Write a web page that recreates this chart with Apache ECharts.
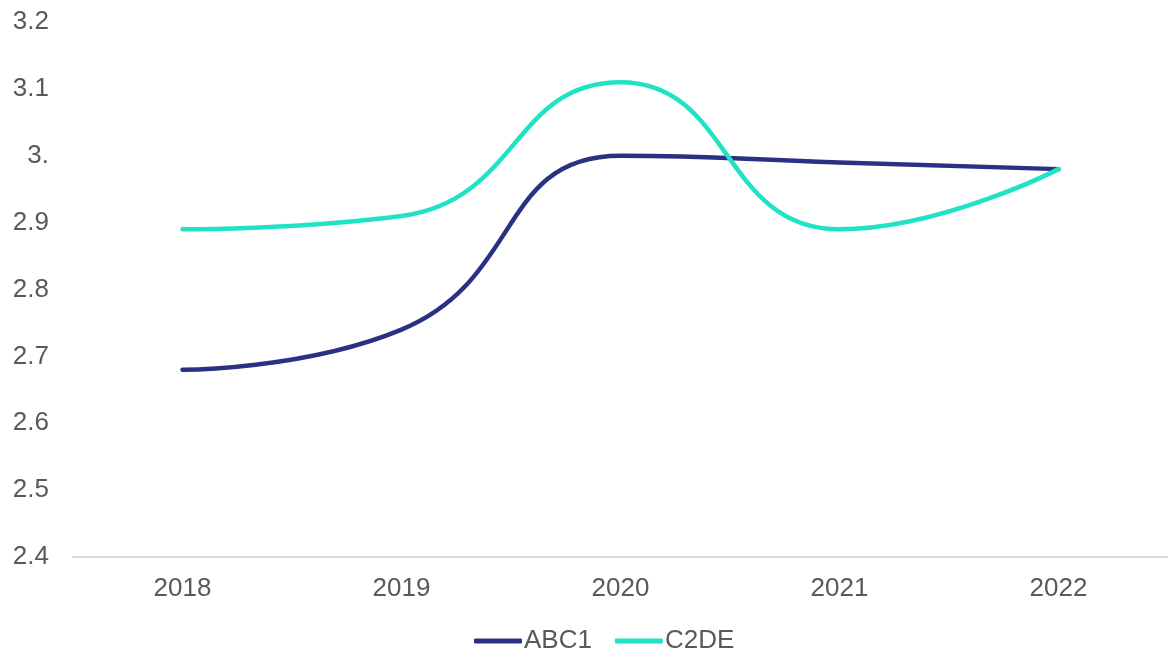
<!DOCTYPE html>
<html>
<head>
<meta charset="utf-8">
<script src="https://cdn.jsdelivr.net/npm/echarts@6/dist/echarts.min.js"></script>
<style>
  html, body { margin: 0; padding: 0; background: #fff; }
  #chart { width: 1168px; height: 652px; }
</style>
</head>
<body>
<div id="chart"></div>
<script>
var years = ['2018', '2019', '2020', '2021', '2022'];
var abc1 = [2.68, 2.74, 3.00, 2.99, 2.98];
var c2de = [2.89, 2.91, 3.11, 2.89, 2.98];

var myChart = echarts.init(document.getElementById('chart'));
var option = {
    animation: false,
    textStyle: { fontFamily: '"Liberation Sans", Arial, sans-serif' },
    grid: { left: 73, top: 22, width: 1100, height: 535 },
    legend: {
        data: ['ABC1', 'C2DE'],
        top: 623,
        left: 469,
        itemWidth: 48,
        itemHeight: 5,
        itemGap: 23,
        icon: 'roundRect',
        textStyle: { fontSize: 26, color: '#595959', padding: [0, 0, 0, -3] }
    },
    xAxis: {
        type: 'category',
        data: years,
        boundaryGap: true,
        axisLine: { lineStyle: { color: '#d9d9d9', width: 2 } },
        axisTick: { show: false },
        axisLabel: { fontSize: 26, color: '#595959', margin: 19 }
    },
    yAxis: {
        type: 'value',
        min: 2.4,
        max: 3.2,
        interval: 0.1,
        splitLine: { show: false },
        axisLabel: {
            fontSize: 26,
            color: '#595959',
            margin: 24,
            formatter: function (v) {
                var s = String(Math.round(v * 10) / 10);
                return s.indexOf('.') < 0 ? s + '.' : s;
            }
        }
    },
    series: [
        {
            name: 'ABC1',
            type: 'line',
            smooth: 0.5,
            symbol: 'none',
            lineStyle: { width: 4.5, color: '#2b3182', cap: 'round' },
            itemStyle: { color: '#2b3182' },
            data: abc1
        },
        {
            name: 'C2DE',
            type: 'line',
            smooth: 0.5,
            symbol: 'none',
            lineStyle: { width: 4.5, color: '#1fe3c4', cap: 'round' },
            itemStyle: { color: '#1fe3c4' },
            data: c2de
        }
    ]
};
myChart.setOption(option);
window.onresize = myChart.resize;
</script>
</body>
</html>
